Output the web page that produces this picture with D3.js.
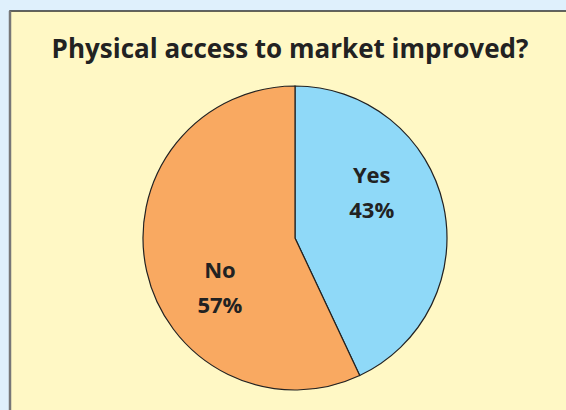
<!DOCTYPE html>
<html><head><meta charset="utf-8">
<script src="https://cdn.jsdelivr.net/npm/d3@7"></script>
<style>html,body{margin:0;padding:0;background:#dff0fc;}svg{display:block;}</style>
</head><body>
<svg id="c" width="566" height="410"></svg>
<script>
const categories = ["Yes", "No"];
const values = [43, 57];
const colors = ["#8fd9f8", "#f9a961"];
const title = "Physical access to market improved?";

const svg = d3.select("#c");
const W = 566, H = 410;
svg.append("rect").attr("x",0).attr("y",0).attr("width",W).attr("height",H).attr("fill","#dff0fc");
svg.append("rect").attr("x",10).attr("y",11).attr("width",W).attr("height",H)
  .attr("fill","#fff8c5").attr("stroke","#333").attr("stroke-width",1.5);
svg.append("line").attr("x1",10).attr("y1",11).attr("x2",10).attr("y2",H).attr("stroke","#777").attr("stroke-width",2.5);

svg.append("text").attr("x",290).attr("y",58).attr("text-anchor","middle")
  .attr("font-family","Open Sans, sans-serif").attr("font-weight","bold").attr("font-size",26)
  .attr("fill","#222").text(title);

const cx = 295, cy = 238, r = 152;
const data = categories.map((c,i)=>({cat:c, value:values[i], color:colors[i]}));
const pie = d3.pie().value(d=>d.value).sort(null);
const arc = d3.arc().innerRadius(0).outerRadius(r);
const g = svg.append("g").attr("transform",`translate(${cx},${cy})`);
const arcs = pie(data);
g.selectAll("path").data(arcs).join("path").attr("d",arc)
  .attr("fill",d=>d.data.color).attr("stroke","#222").attr("stroke-width",1.2);

// label placement: radius and angle fraction within slice
const labelR = r*0.59;
const labelFrac = [0.38, 0.40];
arcs.forEach((a,i)=>{
  const ang = a.startAngle + (a.endAngle - a.startAngle)*labelFrac[i];
  const x = labelR*Math.sin(ang), y = -labelR*Math.cos(ang);
  const t = g.append("text").attr("text-anchor","middle")
    .attr("font-family","Open Sans, sans-serif").attr("font-weight","bold").attr("font-size",22).attr("fill","#222");
  t.append("tspan").attr("x",x).attr("y",y-9).text(a.data.cat);
  t.append("tspan").attr("x",x).attr("y",y+26).text(a.data.value+"%");
});
</script>
</body></html>
